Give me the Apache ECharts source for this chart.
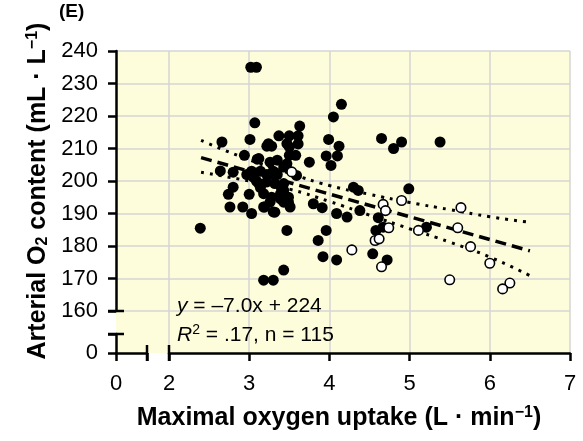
<!DOCTYPE html>
<html><head><meta charset="utf-8">
<script src="https://cdn.jsdelivr.net/npm/echarts@6/dist/echarts.min.js"></script>
<style>html,body{margin:0;padding:0;background:#fff}#c{width:583px;height:441px}</style>
</head><body><div id="c"></div>
<script>
// ---- data ----
const filledPoints = [
  [3.02,235],[3.09,235],[4.15,223.6],[4.05,219.7],[3.07,217.9],[3.63,216.9],
  [3.37,213.9],[3.50,213.9],[3.61,213.9],[3.99,212.8],[3.01,212.8],[2.66,212],
  [3.22,210.7],[3.28,210.7],[3.61,211.4],[4.12,210.7],[3.50,210.5],[3.50,207.9],
  [2.94,207.9],[3.58,207.9],[3.96,207.7],[4.10,207.7],[3.10,206.7],[3.26,205.8],
  [3.75,205.8],[4.02,204.8],[2.64,203.1],[2.80,202.7],[3.03,203],[3.14,203],
  [3.22,202],[3.30,203],[3.59,201.7],[2.80,198.1],[2.74,195.9],[3.00,195.9],
  [2.76,192],[2.92,192],[3.03,190],[3.19,192],[3.32,190.4],[3.12,199.2],
  [3.22,199.7],[3.32,199.2],[3.43,199.2],[3.18,196.1],[3.28,195],[3.39,194.5],
  [3.49,195],[3.49,193.5],[3.51,192],[3.26,193.5],[2.39,185.5],[3.47,184.8],
  [4.99,197.6],[4.30,198.1],[4.36,197.1],[3.80,193],[3.91,191.8],[4.09,190],
  [4.22,188.9],[4.38,190.9],[4.61,188.7],[4.58,184.8],[4.67,185.8],[5.21,185.8],
  [3.96,184.8],[3.86,181.7],[3.92,176.7],[4.09,175.7],[4.54,177.6],[4.72,175.7],
  [3.43,172.6],[3.18,169.5],[3.30,169.5],[4.65,213.1],[4.90,212],[4.80,210],
  [5.38,212],[3.09,200],[3.14,198],[3.40,198],[3.39,196],[2.97,202],
  [3.35,202],[3.12,206.9],[3.47,205.3],[3.24,211.5],[3.47,211.5],[3.30,190.5],
  [3.18,192],[3.35,206.4],[3.43,204.3],[3.43,197.1],[3.43,193.5],[3.05,201.2]
];
const openPoints = [
  [3.53,202.8],[4.90,194],[4.67,192.8],[4.70,190.9],[5.64,191.8],[4.74,185.6],
  [5.11,184.8],[5.60,185.6],[4.57,181.7],[4.62,182.2],[5.76,179.8],[4.28,178.8],
  [6.00,174.7],[4.65,173.6],[5.50,169.6],[6.25,168.6],[6.16,166.8]
];
const fitLine = [[2.4,207.2],[6.5,178.5]];
const bandX = [2.4, 3.0, 3.5, 4.0, 4.5, 5.0, 5.5, 6.0, 6.5];
const bandUpper = [212.5, 206.5, 202.4, 198.6, 195.9, 193.4, 191.2, 189.0, 187.3];
const bandLower = [202.7, 200.0, 197.5, 193.7, 189.5, 185.3, 181.2, 176.6, 170.9];
const xRange = [2, 7];
const yRange = [160, 240];
const yStep = 10;
const xStep = 1;

// ---- chart ----
const FONT = 'Liberation Sans, Arial, Helvetica, sans-serif';
const AX = {color:'#000', width:2.5};
const GRIDLINE = {color:'#d5d5d5', width:1.5};
const TICKFONT = 22;
const chart = echarts.init(document.getElementById('c'), null, {renderer:'canvas'});
const pair = (xs, ys) => xs.map((x,i)=>[x, ys[i]]);

const option = {
  animation:false,
  backgroundColor:'#fff',
  grid:[
    {left:116, right:13, top:51, bottom:88, show:true, backgroundColor:'#fefddb', borderWidth:0}, // 0 background
    {left:169, right:13, top:51, bottom:130}, // 1 data
    {left:116, right:13, top:51, bottom:130}, // 2 y axis upper
    {left:169, right:13, top:51, bottom:88},  // 3 x axis right
    {left:116, width:31, top:334, bottom:88}  // 4 lower-left stubs
  ],
  xAxis:[
    {gridIndex:0, type:'value', min:0, max:1, show:false},
    {gridIndex:1, type:'value', min:xRange[0], max:xRange[1], show:false},
    {gridIndex:2, type:'value', min:0, max:1, show:false},
    {gridIndex:3, type:'value', min:xRange[0], max:xRange[1], interval:xStep,
      axisLine:{onZero:false, lineStyle:AX}, axisTick:{length:8, lineStyle:AX},
      axisLabel:{fontSize:TICKFONT, color:'#000', fontFamily:FONT, margin:20},
      splitLine:{show:true, lineStyle:GRIDLINE}},
    {gridIndex:4, type:'value', min:0, max:1, interval:1,
      axisLine:{onZero:false, lineStyle:AX}, axisTick:{length:8, lineStyle:AX},
      axisLabel:{fontSize:TICKFONT, color:'#000', fontFamily:FONT, margin:20, formatter:v=> v===0?'0':''},
      splitLine:{show:false}}
  ],
  yAxis:[
    {gridIndex:0, type:'value', min:0, max:1, show:false},
    {gridIndex:1, type:'value', min:yRange[0], max:yRange[1], show:false},
    {gridIndex:2, type:'value', min:yRange[0], max:yRange[1], interval:yStep,
      axisLine:{show:true, onZero:false, lineStyle:AX}, axisTick:{show:true, length:8, lineStyle:AX},
      axisLabel:{fontSize:TICKFONT, color:'#000', fontFamily:FONT, margin:18},
      splitLine:{show:true, lineStyle:GRIDLINE}},
    {gridIndex:3, type:'value', min:0, max:1, show:false},
    {gridIndex:4, type:'value', min:0, max:1, interval:1,
      axisLine:{show:true, onZero:false, lineStyle:AX}, axisTick:{show:true, length:8, lineStyle:AX},
      axisLabel:{fontSize:TICKFONT, color:'#000', fontFamily:FONT, margin:18, formatter:v=> v===0?'0':''},
      splitLine:{show:false}}
  ],
  series:[
    {type:'scatter', xAxisIndex:1, yAxisIndex:1, data:filledPoints, symbolSize:11,
      itemStyle:{color:'#000', opacity:1}, z:2, silent:true},
    {type:'line', xAxisIndex:1, yAxisIndex:1, data:pair(bandX, bandUpper), smooth:true, showSymbol:false,
      lineStyle:{color:'#000', width:3, type:[3,6]}, z:3, silent:true},
    {type:'line', xAxisIndex:1, yAxisIndex:1, data:pair(bandX, bandLower), smooth:true, showSymbol:false,
      lineStyle:{color:'#000', width:3, type:[3,6]}, z:3, silent:true},
    {type:'line', xAxisIndex:1, yAxisIndex:1, data:fitLine, showSymbol:false,
      lineStyle:{color:'#000', width:3.5, type:[11,6]}, z:3, silent:true},
    {type:'scatter', xAxisIndex:1, yAxisIndex:1, data:openPoints, symbolSize:9.5,
      itemStyle:{color:'#fff', borderColor:'#000', borderWidth:1.6, opacity:1}, z:4, silent:true}
  ],
  graphic:[
    // axis break marks
    {type:'line', shape:{x1:108,y1:311,x2:124,y2:311}, style:{stroke:'#000', lineWidth:2.5}, z:10},
    {type:'line', shape:{x1:108,y1:334,x2:124,y2:334}, style:{stroke:'#000', lineWidth:2.5}, z:10},
    {type:'line', shape:{x1:147,y1:345,x2:147,y2:361}, style:{stroke:'#000', lineWidth:2.5}, z:10},
    {type:'line', shape:{x1:169,y1:345,x2:169,y2:361}, style:{stroke:'#000', lineWidth:2.5}, z:10},
    // titles
    {type:'text', x:339, y:418, z:10, style:{
      text:'Maximal oxygen uptake (L · min{sup|−1})', font:'bold 25px '+FONT, fill:'#000',
      align:'center', verticalAlign:'middle',
      rich:{sup:{font:'bold 16px '+FONT, fill:'#000', lineHeight:26, padding:[0,0,14,0], verticalAlign:'top'}}
    }},
    {type:'text', x:38, y:191, rotation:Math.PI/2, z:10, style:{
      text:'Arterial O{sub|2} content (mL · L{sup|−1})', font:'bold 25px '+FONT, fill:'#000',
      align:'center', verticalAlign:'middle',
      rich:{
        sup:{font:'bold 16px '+FONT, fill:'#000', lineHeight:26, padding:[0,0,14,0], verticalAlign:'top'},
        sub:{font:'bold 16px '+FONT, fill:'#000', lineHeight:26, padding:[14,0,0,0], verticalAlign:'bottom'}
      }
    }},
    {type:'text', x:59, y:12, z:10, style:{text:'(E)', font:'bold 19px '+FONT, fill:'#000', align:'left', verticalAlign:'middle'}},
    // annotation
    {type:'text', x:177, y:306, z:10, style:{
      text:'{i|y} = –7.0x + 224', font:'21px '+FONT, fill:'#000', align:'left', verticalAlign:'middle',
      rich:{i:{font:'italic 21px '+FONT, fill:'#000'}}
    }},
    {type:'text', x:177, y:335, z:10, style:{
      text:'{i|R}{sup|2} = .17, n = 115', font:'21px '+FONT, fill:'#000', align:'left', verticalAlign:'middle',
      rich:{i:{font:'italic 21px '+FONT, fill:'#000'},
            sup:{font:'14px '+FONT, fill:'#000', lineHeight:24, padding:[0,0,12,0], verticalAlign:'top'}}
    }}
  ]
};
chart.setOption(option);
</script>
</body></html>
